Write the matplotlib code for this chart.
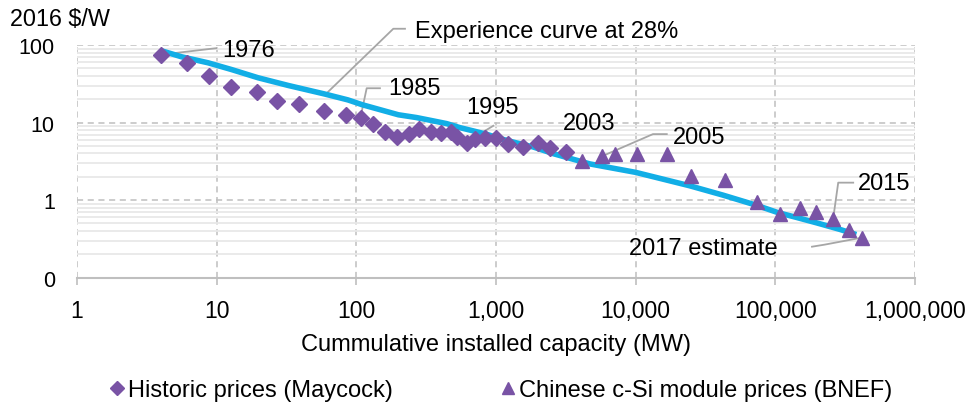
import numpy as np
import matplotlib
matplotlib.use('Agg')
from matplotlib import pyplot as plt
from matplotlib.lines import Line2D
from matplotlib.ticker import FixedLocator, FixedFormatter, NullFormatter, LogLocator

# Historic prices (Maycock), MW vs 2016 $/W
hist_x = [4.0, 6.1, 8.8, 12.6, 19.4, 27, 39, 59, 84, 108, 132, 160, 197, 240, 283, 340, 405,
          475, 530, 615, 712, 840, 995, 1215, 1560, 1990, 2420, 3170]
hist_y = [75, 59, 39.5, 28.8, 24.5, 19.2, 17.2, 14.2, 12.5, 11.6, 9.6, 7.45, 6.6, 7.1, 8.2, 7.6,
          7.3, 7.45, 6.6, 5.4, 6.1, 6.3, 6.3, 5.25, 4.85, 5.45, 4.7, 4.12]

# Chinese c-Si module prices (BNEF)
bnef_x = [4100, 5700, 7150, 10300, 16900, 25100, 43900, 74100, 107700, 149500, 197000, 259500,
          338000, 414000]
bnef_y = [3.21, 3.66, 3.93, 3.92, 3.92, 2.06, 1.82, 0.945, 0.655, 0.785, 0.705, 0.577, 0.418, 0.328]

# Experience curve at 28%
curve_x = [4.05, 5.6, 8.7, 12.8, 19.8, 32.5, 59, 87, 110, 145, 200, 270, 356, 443, 552, 689, 858,
           1068, 1406, 1850, 2600, 3600, 4700, 10000, 24400, 42200, 73100, 104500, 141000, 197000,
           289000, 380000]
curve_y = [84, 70.5, 58.9, 48.2, 37.8, 30.1, 23.4, 19.6, 17.0, 14.8, 12.6, 11.6, 10.5, 9.7, 8.6,
           7.8, 7.06, 6.21, 5.46, 4.84, 3.95, 3.35, 2.93, 2.28, 1.53, 1.16, 0.86, 0.69, 0.60, 0.51,
           0.42, 0.36]

x_ticks = [1, 10, 100, 1000, 10000, 100000, 1000000]
x_ticklabels = ['1', '10', '100', '1,000', '10,000', '100,000', '1,000,000']
y_ticks = [0.1, 1, 10, 100]
y_ticklabels = ['0', '1', '10', '100']

plt.rcParams['font.family'] = ['Liberation Sans', 'DejaVu Sans']

purple = '#7953A5'
blue = '#12AEE6'
leader = '#A6A6A6'

fig = plt.figure(figsize=(9.79, 4.06), dpi=100)
ax = fig.add_axes([77 / 979, 1 - 278.7 / 406, (915 - 77) / 979, (278.7 - 46) / 406])

ax.set_xscale('log')
ax.set_yscale('log')
ax.set_xlim(1, 1000000)
ax.set_ylim(0.1, 100)

# gridlines
ax.yaxis.set_minor_locator(LogLocator(base=10, subs=np.arange(2, 10)))
ax.yaxis.set_minor_formatter(NullFormatter())
ax.xaxis.set_minor_locator(FixedLocator([]))
ax.grid(which='minor', axis='y', color='#E8E8E8', lw=1.3, ls='-')
ax.grid(which='major', axis='both', color='#BFBFBF', lw=1.1, ls=(0, (4, 3)))
ax.set_axisbelow(True)

for s in ['top', 'right', 'left']:
    ax.spines[s].set_visible(False)
ax.spines['bottom'].set_color('#BFBFBF')
ax.spines['bottom'].set_linewidth(1.5)

ax.xaxis.set_major_locator(FixedLocator(x_ticks))
ax.xaxis.set_major_formatter(FixedFormatter(x_ticklabels))
ax.yaxis.set_major_locator(FixedLocator(y_ticks))
ax.yaxis.set_major_formatter(FixedFormatter(y_ticklabels))
ax.tick_params(axis='x', which='major', length=5, width=1.2, color='#BFBFBF', labelsize=16.5, pad=10.5)
ax.tick_params(axis='y', which='both', length=0, labelsize=15.5, pad=16)

# data
ax.plot(curve_x, curve_y, color=blue, lw=4, solid_capstyle='butt', zorder=3)
ax.plot(hist_x, hist_y, ls='none', marker='D', ms=8.5, color=purple, mec=purple, zorder=4)
ax.plot(bnef_x, bnef_y, ls='none', marker='^', ms=10, color=purple, mec=purple, zorder=4)

# annotations: label, leader path (data coords), text position, alignment
fs = 17
ann = [
    ('1976', [(4.0, 75), (9.94, 91)], (10.9, 87), 'left'),
    ('Experience curve at 28%', [(61.3, 23.9), (184, 162), (223, 162)], (263, 153), 'left'),
    ('1985', [(108, 12.5), (118.6, 27.7), (147.6, 27.7)], (168, 27.9), 'left'),
    ('1995', [(634, 5.81), (957, 9.09)], (617, 15.9), 'left'),
    ('2003', None, (3020, 9.86), 'left'),
    ('2005', [(5700, 3.66), (13300, 7.1), (16700, 7.1)], (18500, 6.5), 'left'),
    ('2015', [(259500, 0.577), (282000, 1.68), (361000, 1.68)], (391000, 1.65), 'left'),
    ('2017 estimate', [(414000, 0.328), (226000, 0.267), (183000, 0.251)], (104500, 0.244), 'right'),
]
for label, path, pos, ha in ann:
    if path:
        px, py = zip(*path)
        ax.plot(px, py, color=leader, lw=1.3, zorder=2, clip_on=False)
    ax.text(pos[0], pos[1], label, fontsize=fs, ha=ha, va='center', clip_on=False)

fig.text(10 / 979, 1 - 19.5 / 406, '2016 $/W', fontsize=16.8, ha='left', va='center')

ax.set_xlabel('Cummulative installed capacity (MW)', fontsize=17)
ax.xaxis.set_label_coords(0.5, (278.7 - 345) / (278.7 - 46))
ax.xaxis.label.set_va('center')

handles = [
    Line2D([], [], ls='none', marker='D', ms=7, color=purple),
    Line2D([], [], ls='none', marker='^', ms=9, color=purple),
]
fig.legend(handles, ['Historic prices (Maycock)', 'Chinese c-Si module prices (BNEF)'],
           loc='center', bbox_to_anchor=(0.512, 1 - 391 / 406), ncol=2, frameon=False,
           fontsize=17, handlelength=0.6, handletextpad=0.15, columnspacing=4.6)

fig.savefig('out.png', dpi=100)
